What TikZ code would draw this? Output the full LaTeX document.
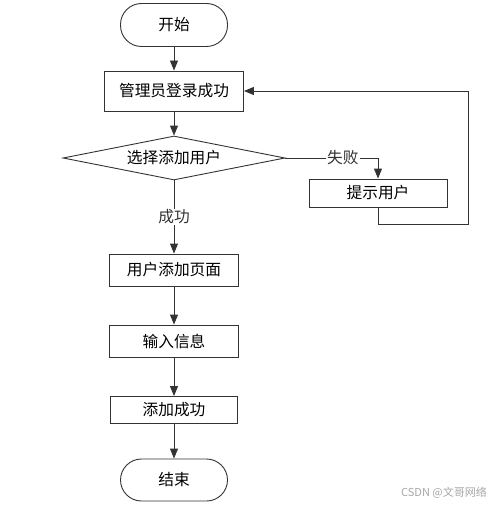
\documentclass[tikz,border=0pt]{standalone}
\usepackage{fontspec}
\usetikzlibrary{arrows.meta,positioning,shapes.geometric}
\newfontfamily\cjk{Noto Sans CJK SC}
\definecolor{flowline}{HTML}{333333}

\begin{document}
\begin{tikzpicture}[
  x=1pt, y=-1pt,
  font=\cjk\fontsize{15.7}{18}\selectfont,
  terminal/.style={rectangle, rounded corners=21pt, draw=flowline, line width=0.9pt, minimum width=107pt, minimum height=43pt, inner sep=0pt},
  stepbox/.style={rectangle, draw=flowline, line width=0.9pt, minimum width=129pt, minimum height=32pt, inner sep=0pt},
  choice/.style={diamond, aspect=5, draw=flowline, line width=0.9pt, minimum width=222pt, minimum height=44pt, inner sep=0pt},
  arr/.style={-{Triangle[length=10pt,width=8pt]}, flowline, line width=0.9pt},
  lbl/.style={fill=white, inner sep=1pt}
]
\useasboundingbox (0,0) rectangle (499,505);

% main column
\node[terminal] (start) at (174,25) {开始};
\node[stepbox, minimum width=139pt, minimum height=40pt] (login) at (174,91) {管理员登录成功};
\node[choice] (pick) at (174,158) {选择添加用户};
\node[stepbox, minimum width=138pt, minimum height=28pt] (hint) at (378,193) {提示用户};
\node[stepbox] (page) at (174,270) {用户添加页面};
\node[stepbox] (info) at (174,341) {输入信息};
\node[stepbox, minimum width=127pt, minimum height=27pt] (done) at (174,410) {添加成功};
\node[terminal, minimum height=42pt] (stop) at (174,480) {结束};

\coordinate (back) at (468,224);

% connectors
\draw[arr] (start) -- (login);
\draw[arr] (login) -- (pick);
\draw[arr] (pick) -- node[lbl, pos=0.5] (ok) {成功} (page);
\draw[arr] (pick.east) -| node[lbl, pos=0.31] (fail) {失败} (hint.north);
\draw[arr] (hint.south) |- (back) |- (login.east);
\draw[arr] (page) -- (info);
\draw[arr] (info) -- (done);
\draw[arr] (done) -- (stop);

\node[text=black!35, font=\cjk\fontsize{11}{13}\selectfont] (mark) at (444,493) {CSDN @文哥网络};

\end{tikzpicture}
\end{document}
